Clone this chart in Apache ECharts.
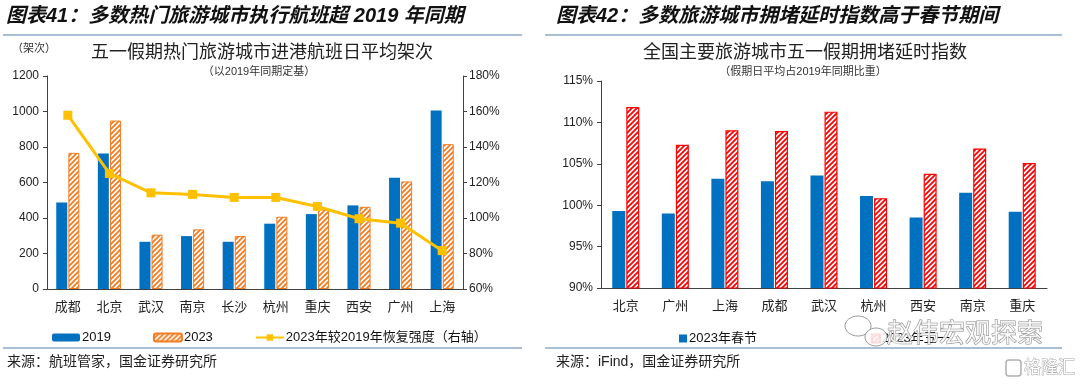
<!DOCTYPE html>
<html><head><meta charset="utf-8">
<script src="https://cdn.jsdelivr.net/npm/echarts@6/dist/echarts.min.js"></script>
<style>html,body{margin:0;padding:0;background:#fff}#c{width:1080px;height:385px}</style>
</head><body><div id="c"></div>
<script>
// Left chart data
const citiesL = ['成都','北京','武汉','南京','长沙','杭州','重庆','西安','广州','上海'];
const flights2019 = [488, 764, 266, 298, 266, 368, 422, 471, 627, 1006];
const flights2023 = [767, 949, 306, 336, 298, 407, 449, 463, 606, 816];
const recovery = [157.9, 125.1, 114.2, 113.3, 111.6, 111.6, 106.5, 99.6, 97.1, 81.6];
// Right chart data
const citiesR = ['北京','广州','上海','成都','武汉','杭州','西安','南京','重庆'];
const springFestival = [99.3, 99.0, 103.2, 102.9, 103.6, 101.1, 98.5, 101.5, 99.2];
const mayDay = [111.85, 107.3, 109.05, 108.95, 111.3, 100.85, 103.8, 106.85, 105.1];

const FONT = '"Liberation Sans", "Noto Sans CJK SC", sans-serif';
function hatch(color, s) {
  const c = document.createElement('canvas');
  c.width = s; c.height = s;
  const g = c.getContext('2d');
  g.fillStyle = '#fff'; g.fillRect(0, 0, s, s);
  g.strokeStyle = color; g.lineWidth = 1.8; g.lineCap = 'square';
  for (let k = -1; k <= 1; k++) {
    g.beginPath(); g.moveTo(k * s, s); g.lineTo(k * s + s, 0); g.stroke();
  }
  return c;
}
const orangePat = { image: hatch('#F47B20', 5), repeat: 'repeat' };
const redPat = { image: hatch('#FF0000', 5), repeat: 'repeat' };
const axisLineStyle = { color: '#404040', width: 1 };
const labelStyle = { color: '#222', fontSize: 12, fontFamily: FONT };

const chart = echarts.init(document.getElementById('c'), null, { renderer: 'canvas' });
chart.setOption({
  animation: false,
  backgroundColor: '#fff',
  grid: [
    { left: 47, right: 617, top: 76, bottom: 96 },
    { left: 601, right: 33, top: 81, bottom: 97 }
  ],
  xAxis: [
    { type: 'category', gridIndex: 0, data: citiesL,
      axisLine: { lineStyle: axisLineStyle }, axisTick: { length: 5, lineStyle: axisLineStyle },
      axisLabel: { color: '#222', fontSize: 13, fontFamily: FONT, margin: 12 } },
    { type: 'category', gridIndex: 1, data: citiesR,
      axisLine: { lineStyle: axisLineStyle }, axisTick: { length: 5, lineStyle: axisLineStyle },
      axisLabel: { color: '#222', fontSize: 13, fontFamily: FONT, margin: 12 } }
  ],
  yAxis: [
    { type: 'value', gridIndex: 0, min: 0, max: 1200, interval: 200,
      axisLine: { show: true, lineStyle: axisLineStyle }, axisTick: { show: true, length: 4, lineStyle: axisLineStyle },
      splitLine: { show: false }, axisLabel: Object.assign({ margin: 8, formatter: v => String(v) }, labelStyle) },
    { type: 'value', gridIndex: 0, position: 'right', min: 60, max: 180, interval: 20,
      axisLine: { show: true, lineStyle: axisLineStyle }, axisTick: { show: true, length: 4, lineStyle: axisLineStyle },
      splitLine: { show: false }, axisLabel: Object.assign({ margin: 6, formatter: '{value}%' }, labelStyle) },
    { type: 'value', gridIndex: 1, min: 90, max: 115, interval: 5,
      axisLine: { show: true, lineStyle: axisLineStyle }, axisTick: { show: true, length: 4, lineStyle: axisLineStyle },
      splitLine: { show: false }, axisLabel: Object.assign({ margin: 8, formatter: '{value}%' }, labelStyle) }
  ],
  legend: [
    { left: 47, top: 326, itemWidth: 28, itemHeight: 8, itemGap: 42,
      textStyle: { color: '#111', fontSize: 13, fontFamily: FONT, padding: [0, 0, 0, -3] },
      data: ['2019', '2023', '2023年较2019年恢复强度（右轴）'] },
    { left: 674, top: 327, itemWidth: 8, itemHeight: 8, itemGap: 114, icon: 'rect',
      textStyle: { color: '#111', fontSize: 13, fontFamily: FONT, padding: [0, 0, 0, -3] },
      data: ['2023年春节', '2023年五一'] }
  ],
  series: [
    { name: '2019', type: 'bar', xAxisIndex: 0, yAxisIndex: 0, data: flights2019,
      barWidth: 11, barGap: '10%', itemStyle: { color: '#0070C0' } },
    { name: '2023', type: 'bar', xAxisIndex: 0, yAxisIndex: 0, data: flights2023,
      barWidth: 11, itemStyle: { color: orangePat, borderColor: '#F47B20', borderWidth: 1 } },
    { name: '2023年较2019年恢复强度（右轴）', type: 'line', xAxisIndex: 0, yAxisIndex: 1, data: recovery,
      symbol: 'rect', symbolSize: 9, lineStyle: { color: '#FFC000', width: 3 },
      itemStyle: { color: '#FFC000' }, z: 5 },
    { name: '2023年春节', type: 'bar', xAxisIndex: 1, yAxisIndex: 2, data: springFestival,
      barWidth: 13, barGap: '8%', itemStyle: { color: '#0070C0' } },
    { name: '2023年五一', type: 'bar', xAxisIndex: 1, yAxisIndex: 2, data: mayDay,
      barWidth: 13, itemStyle: { color: redPat, borderColor: '#FF0000', borderWidth: 1.2 } }
  ],
  graphic: [
    { type: 'text', left: 6, top: 6, style: { text: '图表41：多数热门旅游城市执行航班超 2019 年同期', font: 'italic bold 20px ' + FONT, fill: '#111' } },
    { type: 'text', left: 556, top: 6, style: { text: '图表42：多数旅游城市拥堵延时指数高于春节期间', font: 'italic bold 20px ' + FONT, fill: '#111' } },
    { type: 'line', shape: { x1: 3, y1: 35, x2: 522, y2: 35 }, style: { stroke: '#8DAAC6', lineWidth: 1.5 } },
    { type: 'line', shape: { x1: 545, y1: 35, x2: 1062, y2: 35 }, style: { stroke: '#8DAAC6', lineWidth: 1.5 } },
    { type: 'line', shape: { x1: 3, y1: 348, x2: 522, y2: 348 }, style: { stroke: '#8DAAC6', lineWidth: 1.5 } },
    { type: 'line', shape: { x1: 545, y1: 348, x2: 1062, y2: 348 }, style: { stroke: '#8DAAC6', lineWidth: 1.5 } },
    { type: 'text', left: 12, top: 43, style: { text: '（架次）', font: '11px ' + FONT, fill: '#333' } },
    { type: 'text', x: 262, y: 53, style: { text: '五一假期热门旅游城市进港航班日平均架次', font: '18px ' + FONT, fill: '#222', align: 'center', verticalAlign: 'middle' } },
    { type: 'text', x: 259, y: 72, style: { text: '（以2019年同期定基）', font: '11px ' + FONT, fill: '#333', align: 'center', verticalAlign: 'middle' } },
    { type: 'text', x: 805, y: 53, style: { text: '全国主要旅游城市五一假期拥堵延时指数', font: '18px ' + FONT, fill: '#222', align: 'center', verticalAlign: 'middle' } },
    { type: 'text', x: 803, y: 72, style: { text: '（假期日平均占2019年同期比重）', font: '11px ' + FONT, fill: '#333', align: 'center', verticalAlign: 'middle' } },
    { type: 'text', left: 7, top: 355, style: { text: '来源：航班管家，国金证券研究所', font: '14px ' + FONT, fill: '#222' } },
    { type: 'text', left: 556, top: 355, style: { text: '来源：iFind，国金证券研究所', font: '14px ' + FONT, fill: '#222' } },
    // watermark
    { type: 'ellipse', shape: { cx: 858, cy: 326, rx: 13, ry: 10 }, style: { fill: 'rgba(255,255,255,0.85)', stroke: '#9a9a9a', lineWidth: 1 }, z: 100 },
    { type: 'ellipse', shape: { cx: 876, cy: 337, rx: 11, ry: 9 }, style: { fill: 'rgba(255,255,255,0.85)', stroke: '#9a9a9a', lineWidth: 1 }, z: 100 },
    { type: 'text', x: 887, y: 335, style: { text: '赵伟宏观探索', font: '26px ' + FONT, fill: 'rgba(255,255,255,0.8)', stroke: '#8a8a8a', lineWidth: 1, verticalAlign: 'middle' }, z: 100 },
    { type: 'rect', shape: { x: 1006, y: 360, width: 15, height: 16, r: 3 }, style: { fill: 'none', stroke: '#b0b0b0', lineWidth: 1.5 }, z: 100 },
    { type: 'text', x: 1024, y: 368, style: { text: '格隆汇', font: '17px ' + FONT, fill: '#fff', stroke: '#a8a8a8', lineWidth: 1, verticalAlign: 'middle' }, z: 100 }
  ]
});
</script></body></html>
